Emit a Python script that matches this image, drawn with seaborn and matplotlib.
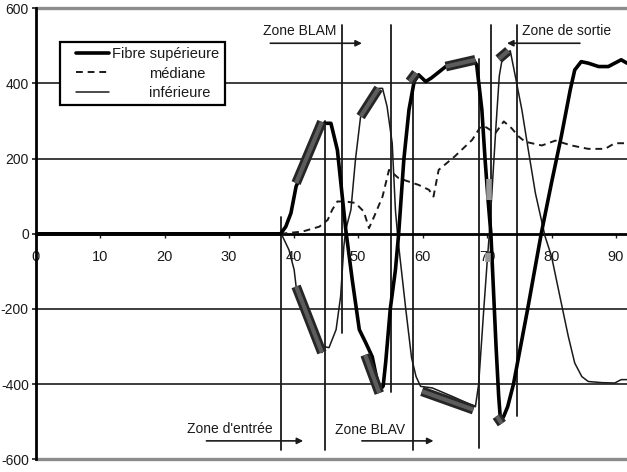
import matplotlib
matplotlib.use("Agg")
import matplotlib.pyplot as plt
from matplotlib.lines import Line2D
from matplotlib.legend_handler import HandlerLine2D
import pandas as pd
import seaborn as sns

# ---------------- data ----------------
x_sup = [0.0, 38.0, 38.8, 39.6, 40.4, 42.4, 44.7, 45.8, 46.8, 48.1, 49.1, 50.2, 51.2, 52.2,
         53.3, 53.9, 54.3, 55.0, 55.8, 56.3, 57.1, 57.9, 58.7, 59.4, 60.5, 61.4, 63.6, 65.1,
         67.9, 68.4, 69.2, 69.7, 70.2, 70.6, 71.0, 71.4, 71.8, 72.1, 72.6, 73.2, 74.1, 75.2,
         76.3, 77.4, 78.4, 80.0, 81.5, 82.9, 83.6, 84.6, 85.7, 87.3, 88.8, 89.8, 90.8, 91.7]
y_sup = [0, 0, 19, 55, 126, 206, 294, 294, 223, 11, -122, -255, -290, -327,
         -418, -405, -340, -200, -96, 0, 197, 330, 405, 423, 405, 415, 445, 454,
         463, 449, 330, 197, 82, 0, -150, -300, -430, -500, -485, -460, -400, -300,
         -200, -95, 0, 136, 258, 383, 436, 458, 454, 445, 445, 454, 463, 454]

x_med = [0.0, 38.0, 41.4, 44.0, 45.3, 46.0, 46.8, 48.1, 49.6, 50.9, 51.7, 52.5, 53.8, 54.8,
         56.3, 59.4, 61.0, 61.7, 62.5, 65.0, 67.7, 69.0, 69.7, 71.3, 72.6, 73.8, 74.9, 75.9,
         78.5, 80.6, 83.1, 85.7, 88.3, 89.8, 91.7]
y_med = [0, 0, 6, 19, 37, 64, 86, 86, 82, 59, 15, 46, 99, 170,
         148, 130, 117, 99, 170, 206, 250, 285, 285, 268, 299, 281, 259, 245,
         235, 248, 235, 226, 226, 241, 241]

x_inf = [0.0, 38.0, 38.3, 39.3, 40.1, 40.4, 42.4, 44.4, 44.7, 45.5, 46.6, 47.3, 47.8, 48.1,
         48.9, 49.6, 50.4, 53.2, 53.8, 54.5, 55.3, 55.8, 56.2, 57.4, 58.3, 59.0, 59.7, 61.5,
         64.8, 68.2, 68.7, 69.5, 70.0, 70.4, 70.9, 71.4, 71.9, 72.3, 73.0, 73.6, 74.4, 75.4,
         76.4, 77.5, 79.0, 80.0, 81.3, 82.6, 83.6, 84.7, 85.7, 87.8, 89.8, 90.8, 91.7]
y_inf = [0, 0, -7, -43, -96, -140, -229, -316, -300, -303, -255, -167, -34, 11,
         64, 197, 312, 387, 387, 339, 241, 63, -16, -200, -330, -380, -406, -410,
         -434, -460, -400, -200, -80, 10, 150, 290, 420, 460, 482, 487, 418, 330,
         223, 108, -7, -60, -167, -273, -344, -380, -393, -396, -397, -388, -388]

labels = ["Fibre supérieure", "médiane", "inférieure"]

# highlighted stretches (dark bars)
hl_x0 = [40.4, 40.4, 50.4, 51.1, 58.0, 63.6, 59.9, 71.8, 71.5]
hl_y0 = [135, -140, 312, -322, 405, 445, -419, 465, -485]
hl_x1 = [44.4, 44.4, 53.2, 53.3, 59.0, 68.2, 67.9, 73.3, 72.3]
hl_y1 = [298, -316, 387, -424, 428, 463, -468, 487, -505]
# light grey marks
lg_x0 = [70.3, 70.1]
lg_y0 = [90, -50]
lg_x1 = [70.3, 70.1]
lg_y1 = [145, -75]

# zone boundary lines
zone_x = [38.06, 44.9, 47.5, 55.07, 58.5, 68.8, 70.6, 74.6]
zone_top = [46, 300, 555, 555, 410, 465, 555, 555]
zone_bot = [-575, -575, -263, -420, -575, -570, 0, -485]

# zone annotations: text, text x, text y, arrow start x, arrow end x, arrow y
zone_txt = ["Zone BLAM", "Zone de sortie", "Zone d'entrée", "Zone BLAV"]
zone_tx = [41.0, 82.36, 30.2, 51.9]
zone_ty = [540, 540, -519, -521]
arr_x0 = [36.4, 84.4, 26.5, 50.6]
arr_x1 = [50.6, 73.1, 41.5, 61.7]
arr_y = [507, 507, -551, -551]

x_ticks = [0, 10, 20, 30, 40, 50, 60, 70, 80, 90]
y_ticks = [600, 400, 200, 0, -200, -400, -600]
y_ticklabels = ["600", "400", "200", "0", "-200", "-400", "-600"]

# ---------------- style ----------------
sns.set_style("white")
plt.rcParams["font.family"] = ["Liberation Sans", "DejaVu Sans"]
plt.rcParams["axes.unicode_minus"] = False
INK = "#1a1a1a"

W, H = 627, 472
fig = plt.figure(figsize=(W / 100, H / 100), dpi=100)
left_px, top_px, bot_px = 35.5, 8.3, 459.3
ax = fig.add_axes([left_px / W, 1 - bot_px / H, 1 - left_px / W, (bot_px - top_px) / H])
ax.set_xlim(0, 91.7)
ax.set_ylim(-600, 600)

# grid lines
for yv in [400, 200, -200, -400]:
    ax.axhline(yv, color="#2e2e2e", lw=1.3, zorder=1)
for yv in [600, -600]:
    ax.axhline(yv, color="#8c8c8c", lw=2.4, zorder=1, clip_on=False)

# zone boundaries
for zx, zt, zb in zip(zone_x, zone_top, zone_bot):
    ax.plot([zx, zx], [zb, zt], color=INK, lw=1.3, zorder=2)

# curves
df_sup = pd.DataFrame({"x": x_sup, "y": y_sup})
df_med = pd.DataFrame({"x": x_med, "y": y_med})
df_inf = pd.DataFrame({"x": x_inf, "y": y_inf})
sns.lineplot(data=df_med, x="x", y="y", ax=ax, color=INK, lw=1.4,
             linestyle=(0, (3.5, 2.5)), estimator=None, sort=False, label=labels[1], zorder=3)
sns.lineplot(data=df_inf, x="x", y="y", ax=ax, color=INK, lw=1.1,
             estimator=None, sort=False, label=labels[2], zorder=4)
sns.lineplot(data=df_sup, x="x", y="y", ax=ax, color="black", lw=2.6,
             estimator=None, sort=False, label=labels[0], zorder=5)

# highlight bars
for a, b, c, d in zip(hl_x0, hl_y0, hl_x1, hl_y1):
    ax.plot([a, c], [b, d], color="#262626", lw=7, solid_capstyle="butt", zorder=6)
    ax.plot([a, c], [b, d], color="#5c5c5c", lw=3, solid_capstyle="butt", zorder=7)
for a, b, c, d in zip(lg_x0, lg_y0, lg_x1, lg_y1):
    ax.plot([a, c], [b, d], color="#9a9a9a", lw=4, solid_capstyle="butt", zorder=6)

# annotations
for t, tx, ty, a0, a1, ay in zip(zone_txt, zone_tx, zone_ty, arr_x0, arr_x1, arr_y):
    ax.text(tx, ty, t, ha="center", va="center", fontsize=10, color=INK, zorder=8)
    ax.annotate("", xy=(a1, ay), xytext=(a0, ay),
                arrowprops=dict(arrowstyle="-|>", color=INK, lw=1.2,
                                mutation_scale=9, shrinkA=0, shrinkB=0), zorder=8)

# axes
ax.spines["top"].set_visible(False)
ax.spines["right"].set_visible(False)
ax.spines["bottom"].set_position(("data", 0))
ax.spines["bottom"].set_color("black")
ax.spines["bottom"].set_linewidth(2.0)
ax.spines["left"].set_color("black")
ax.spines["left"].set_linewidth(2.0)
ax.set_xticks(x_ticks)
ax.set_xticklabels([str(v) for v in x_ticks])
ax.set_yticks(y_ticks)
ax.set_yticklabels(y_ticklabels)
ax.tick_params(axis="x", direction="out", length=3, width=1, pad=9,
               labelsize=10.5, colors=INK, bottom=True)
ax.tick_params(axis="y", direction="out", length=3.0, width=1.2, pad=1.8,
               labelsize=10, colors=INK, left=True)
ax.set_xlabel("")
ax.set_ylabel("")

# legend
h, l = ax.get_legend_handles_labels()
order = [l.index(s) for s in labels]
leg = ax.legend([h[i] for i in order], [l[i] for i in order],
                handler_map={Line2D: HandlerLine2D(xpad=0.75)},
                loc="upper left", bbox_to_anchor=(24.5 / 591.5, (bot_px - 42) / 451),
                borderaxespad=0, frameon=True, fancybox=False, shadow=False,
                framealpha=1, edgecolor="black", fontsize=10.5, handlelength=3.0,
                handletextpad=0.25, labelspacing=0.37, borderpad=0.35)
leg.get_frame().set_linewidth(1.6)
leg.set_zorder(10)
for t in leg.get_texts():
    t.set_color(INK)
try:
    rows = leg._legend_handle_box.get_children()[0].get_children()
    for i, hp in enumerate(rows):
        if i > 0:
            hp.sep = hp.sep + 26
except Exception:
    pass

fig.savefig("out.png", dpi=100)
